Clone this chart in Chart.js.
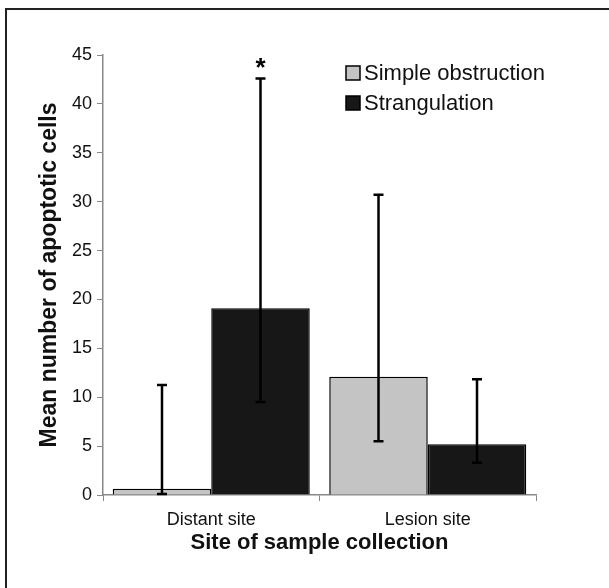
<!DOCTYPE html>
<html>
<head>
<meta charset="utf-8">
<script src="https://cdn.jsdelivr.net/npm/chart.js@4"></script>
<style>
  body { margin: 0; background: #fff; }
  #frame { position: absolute; left: 5px; top: 8px; width: 700px; height: 700px;
    border-top: 2px solid #222; border-left: 2px solid #222; }
  #wrap { position: absolute; left: 0; top: 0; width: 609px; height: 588px; }
</style>
</head>
<body>
<div id="frame"></div>
<div id="wrap"><canvas id="myChart" width="609" height="588"></canvas></div>
<script>
// datos
const sitios = ["Distant site", "Lesion site"];
const series = ["Simple obstruction", "Strangulation"];
const simple = [0.65, 12.1];
const estrangulacion = [19.1, 5.2];
// extremos de las barras de error (abajo / arriba)
const simpleLow = [0.1, 5.5];
const simpleHigh = [11.25, 30.7];
const estrLow = [9.5, 3.3];
const estrHigh = [42.6, 11.85];
const marcas = ["*", ""];

const colores = ["#c4c4c4", "#171717"];
const errLow = [simpleLow, estrLow];
const errHigh = [simpleHigh, estrHigh];

// dibuja barras de error, asterisco y leyenda
const extras = {
  id: "extras",
  afterDatasetsDraw(chart) {
    const ctx = chart.ctx;
    const y = chart.scales.y;
    ctx.save();
    ctx.strokeStyle = "#000";
    ctx.lineWidth = 2.5;
    chart.data.datasets.forEach((ds, i) => {
      const meta = chart.getDatasetMeta(i);
      meta.data.forEach((bar, j) => {
        const lo = y.getPixelForValue(errLow[i][j]);
        const hi = y.getPixelForValue(errHigh[i][j]);
        ctx.beginPath();
        ctx.moveTo(bar.x, lo);
        ctx.lineTo(bar.x, hi);
        ctx.moveTo(bar.x - 5, hi);
        ctx.lineTo(bar.x + 5, hi);
        ctx.moveTo(bar.x - 5, lo);
        ctx.lineTo(bar.x + 5, lo);
        ctx.stroke();
        if (i === 1 && marcas[j]) {
          ctx.fillStyle = "#000";
          ctx.font = "bold 26px 'Liberation Sans', Arial";
          ctx.textAlign = "center";
          ctx.textBaseline = "middle";
          ctx.fillText(marcas[j], bar.x, hi - 10);
        }
      });
    });
    // leyenda
    ctx.font = "22px 'Liberation Sans', Arial";
    ctx.textAlign = "left";
    ctx.textBaseline = "middle";
    series.forEach((s, i) => {
      const cy = 73 + i * 30;
      ctx.fillStyle = colores[i];
      ctx.fillRect(346, cy - 7, 14, 14);
      ctx.lineWidth = 1.5;
      ctx.strokeRect(346, cy - 7, 14, 14);
      ctx.fillStyle = "#111";
      ctx.fillText(s, 364, cy + 1);
    });
    ctx.restore();
  },
};

const ctx = document.getElementById("myChart");
const myChart = new Chart(ctx, {
  type: "bar",
  data: {
    labels: sitios,
    datasets: [
      {
        label: series[0],
        data: simple,
        backgroundColor: colores[0],
        borderColor: "#000",
        borderWidth: 1.5,
      },
      {
        label: series[1],
        data: estrangulacion,
        backgroundColor: colores[1],
        borderColor: "#000",
        borderWidth: 1.5,
      },
    ],
  },
  options: {
    responsive: false,
    animation: false,
    events: [],
    categoryPercentage: 0.91,
    barPercentage: 1.0,
    layout: { padding: { left: 0, top: 55, right: 73, bottom: 0 } },
    plugins: {
      legend: { display: false },
      tooltip: { enabled: false },
    },
    scales: {
      x: {
        afterFit: (s) => { s.height = 93; },
        grid: { drawOnChartArea: false, tickLength: 6, color: "#888" },
        border: { color: "#888", width: 1.5 },
        ticks: { font: { family: "'Liberation Sans', Arial", size: 18 }, color: "#111", padding: 8 },
        title: {
          display: true,
          text: "Site of sample collection",
          font: { family: "'Liberation Sans', Arial", size: 22, weight: "bold" },
          color: "#111",
          padding: { bottom: 32 },
        },
      },
      y: {
        min: 0,
        max: 45,
        afterFit: (s) => { s.width = 103; },
        grid: { drawOnChartArea: false, tickLength: 6, color: "#888" },
        border: { color: "#888", width: 1.5 },
        ticks: { stepSize: 5, font: { family: "'Liberation Sans', Arial", size: 18 }, color: "#111", padding: 5 },
        title: {
          display: true,
          text: "Mean number of apoptotic cells",
          font: { family: "'Liberation Sans', Arial", size: 23, weight: "bold" },
          color: "#111",
          padding: { top: 36 },
        },
      },
    },
  },
  plugins: [extras],
});
</script>
</body>
</html>
